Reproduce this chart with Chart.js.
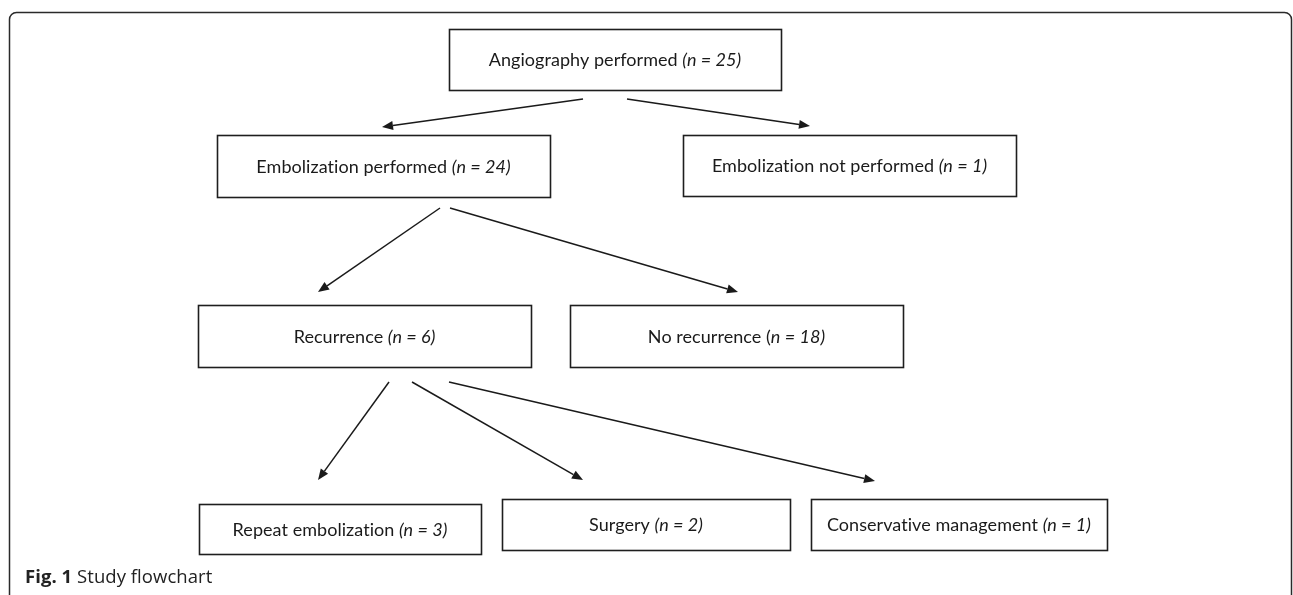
<!DOCTYPE html>
<html><head><meta charset="utf-8">
<script src="https://cdn.jsdelivr.net/npm/chart.js@4.4.1/dist/chart.umd.min.js"></script>
<style>html,body{margin:0;padding:0;background:#fff;overflow:hidden}#wrap{width:1293px;height:595px;position:relative}</style>
</head><body><div id="wrap"><canvas id="c" width="1293" height="595"></canvas></div>
<script>
// ---- data ----
const nodeLabels = ['Angiography performed','Embolization performed','Embolization not performed','Recurrence','No recurrence','Repeat embolization','Surgery','Conservative management'];
const nodeCounts = [25,24,1,6,18,3,2,1];
const edgeFrom = [0,0,1,1,3,3,3];
const edgeTo   = [1,2,3,4,5,6,7];
const captionBold = 'Fig. 1';
const captionText = 'Study flowchart';

// ---- layout (diagram units on the hidden axes) ----
const layout = {
  boxLeft:   [449,217,683,198,570,199,502,811],
  boxRight:  [781,550,1016,531,903,481,790,1107],
  boxTop:    [29,135,135,305,305,504,499,499],
  boxBottom: [90,197,196,367,367,554,550,550],
  parenItalic: [true,true,true,true,false,true,true,true],
  edgeStartX: [583,627,440,450,389,412,449],
  edgeStartY: [99,99,208,208,382,382,382],
  edgeEndX:   [382,810,318,738,318,583,875],
  edgeEndY:   [127,126,292,292,480,480,481]
};

const centers = nodeLabels.map((l,i)=>({x:(layout.boxLeft[i]+layout.boxRight[i])/2, y:(layout.boxTop[i]+layout.boxBottom[i])/2}));

const flowPlugin = {
  id:'flow',
  afterDatasetsDraw(chart){
    const ctx = chart.ctx, xs = chart.scales.x, ys = chart.scales.y;
    const X = v => xs.getPixelForValue(v), Y = v => ys.getPixelForValue(v);
    ctx.save();
    if ('letterSpacing' in ctx) ctx.letterSpacing = '0.05px';
    // outer frame
    ctx.strokeStyle = '#2a2a2a'; ctx.lineWidth = 1.5;
    ctx.beginPath();
    const l = X(9)+0.5, t = Y(12)+0.5, r = X(1292)-0.5, b = Y(600), rad = 7;
    ctx.moveTo(l, b); ctx.lineTo(l, t+rad); ctx.arcTo(l, t, l+rad, t, rad);
    ctx.lineTo(r-rad, t); ctx.arcTo(r, t, r, t+rad, rad); ctx.lineTo(r, b);
    ctx.stroke();
    // boxes
    ctx.strokeStyle = '#1e1e1e'; ctx.lineWidth = 1.6;
    const regFont = '18px Lato', itFont = 'italic 18px Lato';
    nodeLabels.forEach((lab,i)=>{
      const x0 = X(layout.boxLeft[i]), x1 = X(layout.boxRight[i]);
      const y0 = Y(layout.boxTop[i]), y1 = Y(layout.boxBottom[i]);
      ctx.strokeRect(Math.round(x0)+0.5, Math.round(y0)+0.5, Math.round(x1-x0), Math.round(y1-y0));
      const a = layout.parenItalic[i] ? lab + ' ' : lab + ' (';
      const bTxt = layout.parenItalic[i] ? '(n = ' + nodeCounts[i] + ')' : 'n = ' + nodeCounts[i] + ')';
      ctx.font = regFont; const wa = ctx.measureText(a).width;
      ctx.font = itFont; const wb = ctx.measureText(bTxt).width;
      const cx = (x0+x1)/2, base = (y0+y1)/2 + 6.5;
      const sx = cx - (wa+wb)/2;
      ctx.fillStyle = '#1a1a1a'; ctx.textBaseline = 'alphabetic'; ctx.textAlign = 'left';
      ctx.font = regFont; ctx.fillText(a, sx, base);
      ctx.font = itFont; ctx.fillText(bTxt, sx+wa, base);
    });
    // arrows
    ctx.strokeStyle = '#1a1a1a'; ctx.fillStyle = '#1a1a1a'; ctx.lineWidth = 1.5;
    edgeFrom.forEach((f,k)=>{
      const sx = X(layout.edgeStartX[k]), sy = Y(layout.edgeStartY[k]);
      const ex = X(layout.edgeEndX[k]), ey = Y(layout.edgeEndY[k]);
      const ang = Math.atan2(ey-sy, ex-sx), hl = 11, hw = 4.5;
      const bx = ex - hl*Math.cos(ang), by = ey - hl*Math.sin(ang);
      ctx.beginPath(); ctx.moveTo(sx,sy); ctx.lineTo(bx,by); ctx.stroke();
      ctx.beginPath(); ctx.moveTo(ex,ey);
      ctx.lineTo(bx + hw*Math.sin(ang), by - hw*Math.cos(ang));
      ctx.lineTo(bx - hw*Math.sin(ang), by + hw*Math.cos(ang));
      ctx.closePath(); ctx.fill();
    });
    // caption
    ctx.fillStyle = '#222'; ctx.textAlign='left'; ctx.textBaseline='alphabetic';
    ctx.font = 'bold 18.5px "Open Sans"';
    const cb = X(25), cy = Y(583);
    ctx.fillText(captionBold, cb, cy);
    const w1 = ctx.measureText(captionBold + ' ').width;
    ctx.font = '18.5px "Open Sans"';
    ctx.fillText(captionText, cb + w1, cy);
    ctx.restore();
  }
};

new Chart(document.getElementById('c'), {
  type:'scatter',
  data:{ datasets:[{ label:'nodes', data: centers, pointRadius:0, pointHoverRadius:0 }] },
  options:{
    responsive:false, animation:false, devicePixelRatio:1,
    layout:{padding:0},
    events:[],
    plugins:{legend:{display:false}, tooltip:{enabled:false}, title:{display:false}},
    scales:{
      x:{type:'linear', min:0, max:1293, display:false},
      y:{type:'linear', min:0, max:595, reverse:true, display:false}
    }
  },
  plugins:[flowPlugin]
});
</script>
</body></html>
